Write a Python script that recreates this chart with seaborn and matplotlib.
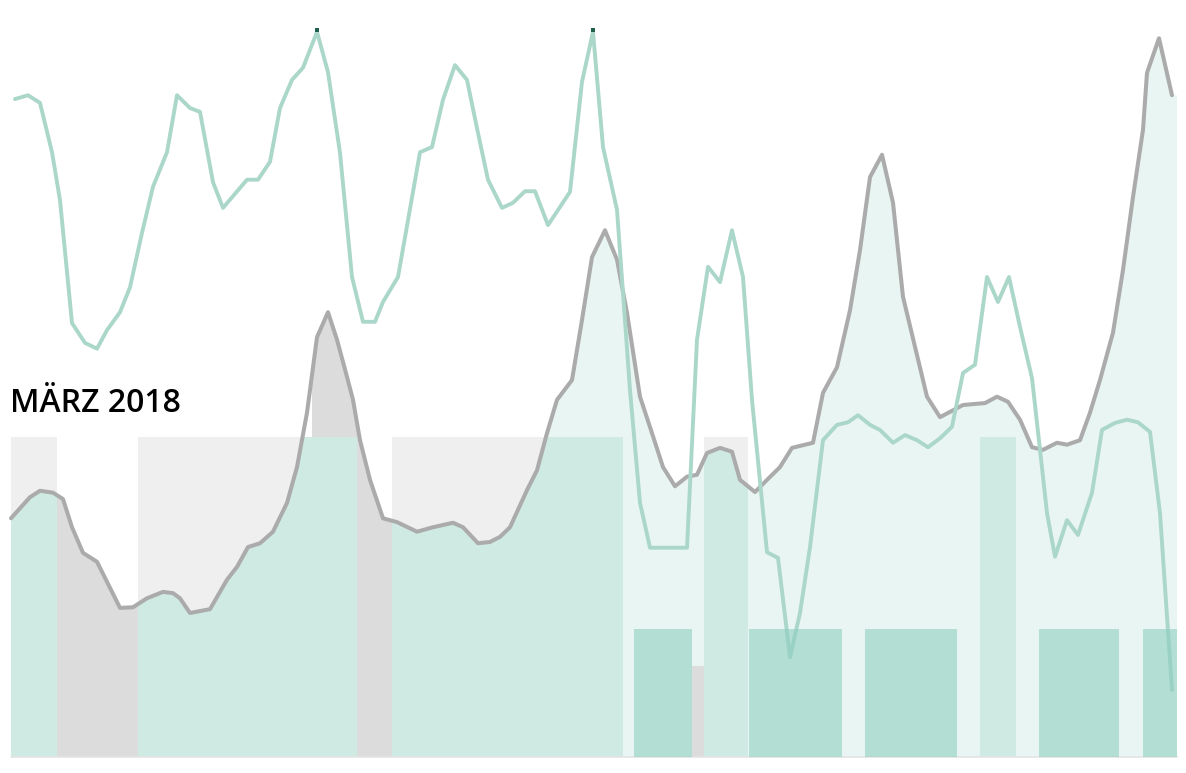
import numpy as np
import pandas as pd
import seaborn as sns
import matplotlib
matplotlib.use("Agg")
import matplotlib.pyplot as plt
from matplotlib.patches import Polygon

# time axis (arbitrary units across March 2018) and values
gray_t = [0.1, 2.0, 3.0, 4.3, 5.3, 6.2, 7.3, 8.7, 11.0, 12.3, 13.7, 15.3, 16.3, 17.0, 18.0,
          20.0, 21.7, 22.7, 23.8, 25.0, 26.3, 27.7, 28.7, 29.7, 30.7, 31.8, 32.7, 33.7, 34.3,
          35.0, 36.0, 37.3, 38.7, 40.7, 42.3, 44.3, 45.3, 46.8, 48.0, 49.0, 50.0, 51.7, 52.7,
          53.7, 54.7, 56.2, 57.2, 58.2, 59.5, 60.7, 61.7, 63.0, 64.2, 65.3, 66.5, 67.7, 68.7,
          69.7, 71.0, 72.2, 73.0, 74.5, 75.7, 77.0, 78.2, 80.3, 81.3, 82.7, 84.0, 85.0, 86.0,
          87.2, 88.3, 89.3, 90.5, 91.7, 93.0, 95.3, 97.5, 98.7, 99.8, 101.0, 102.2, 103.3,
          104.7, 105.7, 107.0, 108.0, 109.0, 110.3, 111.3, 112.3, 113.3, 113.7, 114.9, 116.2]
gray_v = [37.3, 40.6, 41.6, 41.3, 40.3, 35.9, 31.9, 30.5, 23.3, 23.4, 24.8, 25.8, 25.6, 24.8, 22.5,
          23.1, 27.7, 29.7, 32.8, 33.4, 35.2, 39.7, 45.3, 53.8, 65.6, 69.5, 65.2, 59.4, 55.8,
          49.5, 43.3, 37.3, 36.7, 35.2, 35.9, 36.6, 35.9, 33.4, 33.6, 34.4, 35.9, 41.7, 44.8,
          50.6, 55.8, 58.9, 68.3, 78.1, 82.3, 77.7, 69.4, 56.3, 50.6, 45.3, 42.3, 43.8, 44.1,
          47.5, 48.3, 47.7, 43.3, 41.4, 43.3, 45.3, 48.3, 49.1, 56.9, 60.9, 69.8, 79.2, 90.6,
          94.1, 86.6, 71.9, 64.1, 56.3, 53.1, 55.0, 55.3, 56.3, 55.5, 52.7, 48.4, 48.0,
          49.1, 48.8, 49.5, 53.8, 58.9, 66.3, 76.1, 87.5, 98.0, 106.9, 112.3, 103.4]

green_t = [0.5, 1.8, 3.0, 4.2, 5.0, 6.2, 7.5, 8.7, 9.7, 11.0, 12.0, 13.2, 14.3, 15.7, 16.7, 18.0,
           19.0, 20.3, 21.3, 23.7, 24.8, 26.0, 27.0, 28.2, 29.3, 30.7, 31.8, 33.0, 34.2, 35.3,
           36.5, 37.3, 38.8, 41.0, 42.2, 43.3, 44.5, 45.7, 46.8, 47.8, 49.2, 50.3, 51.5, 52.5,
           53.8, 56.0, 57.2, 58.3, 59.3, 60.7, 62.0, 63.0, 64.0, 67.7, 68.7, 69.8, 71.0, 72.2,
           73.3, 74.2, 75.7, 76.8, 78.0, 79.0, 80.0, 81.3, 82.7, 83.8, 84.8, 86.0, 87.0, 88.3,
           89.5, 90.7, 91.8, 93.0, 94.2, 95.3, 96.5, 97.7, 98.8, 99.9, 101.0, 102.2, 103.0,
           103.7, 104.5, 105.7, 106.8, 108.2, 109.2, 110.5, 111.7, 112.8, 114.0, 115.0, 116.2]
green_v = [102.8, 103.4, 102.2, 94.5, 87.0, 67.8, 64.7, 63.8, 66.7, 69.5, 73.4, 81.9, 89.1, 94.5,
           103.4, 101.4, 100.8, 89.8, 85.8, 90.2, 90.2, 93.0, 101.4, 105.8, 107.7, 113.3, 107.0,
           94.4, 75.0, 68.0, 68.0, 71.1, 75.0, 94.5, 95.3, 102.7, 108.1, 105.8, 97.5, 90.2, 85.8,
           86.6, 88.4, 88.4, 83.1, 88.3, 105.5, 113.3, 95.3, 85.5, 57.3, 39.7, 32.7, 32.7, 65.2,
           76.6, 74.2, 82.3, 75.0, 55.8, 32.0, 31.1, 15.6, 22.5, 32.8, 49.5, 51.9, 52.3, 53.4,
           51.9, 51.1, 49.1, 50.3, 49.5, 48.4, 49.8, 51.6, 60.0, 61.3, 75.0, 71.1, 75.0, 67.2,
           59.2, 48.0, 38.1, 31.3, 37.0, 34.7, 41.3, 51.1, 52.2, 52.7, 52.3, 50.8, 38.1, 10.5]

# periods (start, end) and levels
tall_blocks = [(0.1, 4.7), (12.8, 34.7), (38.2, 61.3), (69.4, 73.8), (97.0, 100.6)]
tall_level = 50.0
gray_periods = [(4.7, 12.8), (30.2, 38.2)]
light_period = [(38.2, 116.7)]
low_blocks = [(62.4, 68.2), (73.9, 83.2), (85.5, 94.7), (102.9, 110.9), (113.3, 116.7)]
low_level = 20.0
gray_low = [(68.2, 69.4)]
gray_low_level = 14.2
end_t = 116.7

sns.set_style("white")
fig = plt.figure(figsize=(11.86, 7.73), dpi=100)
ax = fig.add_axes([0, 0, 1, 1])

# area under the gray line used as clip shape
gt = np.array(gray_t)
gv = np.array(gray_v)
verts = np.column_stack([np.r_[gt[0], gt, end_t, end_t], np.r_[0, gv, gv[-1], 0]])
under = Polygon(verts, closed=True, transform=ax.transData)


def bars(periods, level, color, z, clip=False, alpha=1.0):
    starts = [a for a, b in periods]
    widths = [b - a for a, b in periods]
    cont = ax.bar(starts, [level] * len(periods), width=widths, align="edge",
                  color=color, lw=0, zorder=z, alpha=alpha)
    if clip:
        for p in cont:
            p.set_clip_path(under)
    return cont


bars(tall_blocks, tall_level, "#efefef", 1)
bars(gray_periods, 200, "#dcdcdd", 2, clip=True)
bars(light_period, 200, "#e9f5f2", 2, clip=True)
bars(tall_blocks, tall_level, "#cfeae3", 3, clip=True)
bars(gray_low, gray_low_level, "#dcdcdd", 3)

ax.plot([0.1, end_t], [0, 0], color="#e4e4e4", lw=1.2, zorder=3)

df_gray = pd.DataFrame({"t": gray_t, "v": gray_v})
df_green = pd.DataFrame({"t": green_t, "v": green_v})
sns.lineplot(data=df_gray, x="t", y="v", ax=ax, color="#ababab", lw=2.9,
             estimator=None, zorder=4)
sns.lineplot(data=df_green, x="t", y="v", ax=ax, color="#aad7c9", lw=2.8,
             estimator=None, zorder=4.5)

gv2 = np.array(green_v)
pk = np.isclose(gv2, gv2.max())
ax.scatter(np.array(green_t)[pk], gv2[pk] + 0.3, s=5, marker="s", color="#1d5e4c",
           zorder=6, lw=0)

# lower period blocks drawn over the lines
bars(low_blocks, low_level, "#8fd0c1", 5, alpha=0.6)

ax.text(0.0, 53.9, "MÄRZ 2018", fontsize=23, fontfamily="Open Sans",
        fontweight="semibold", color="black", va="baseline", ha="left", zorder=7)

ax.set_xlim(-1.0, 117.6)
ax.set_ylim(-2.5, 118.28)
ax.axis("off")
fig.savefig("out.png", dpi=100)
